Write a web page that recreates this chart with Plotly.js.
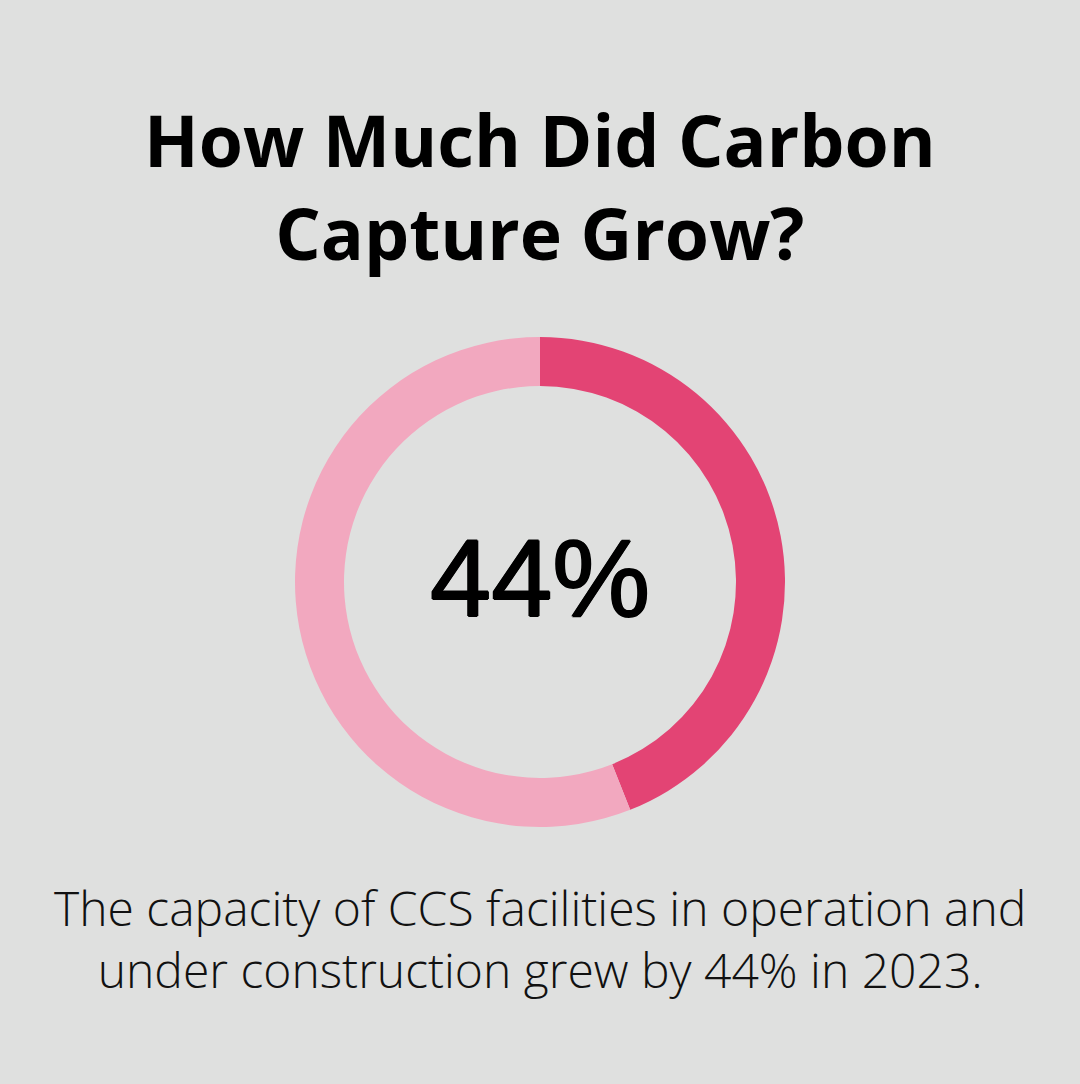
<!DOCTYPE html>
<html>
<head>
<meta charset="utf-8">
<script src="https://cdn.plot.ly/plotly-3.0.1.min.js"></script>
<style>html,body{margin:0;padding:0;background:#dfe0df;}#chart{width:1080px;height:1084px;}</style>
</head>
<body>
<div id="chart"></div>
<script>
const categories = ["Growth", "Remainder"];
const values = [44, 56];
const centerLabel = "44%";
const titleText = "How Much Did Carbon<br>Capture Grow?";
const captionText = "The capacity of CCS facilities in operation and<br>under construction grew by 44% in 2023.";
const colors = ["#e34474", "#f2a8bf"];

const W = 1080, H = 1084;
const data = [{
  type: "pie",
  labels: categories,
  values: values,
  hole: 0.8,
  sort: false,
  direction: "clockwise",
  rotation: 0,
  marker: {colors: colors, line: {width: 0}},
  textinfo: "none",
  hoverinfo: "none",
  showlegend: false,
  domain: {x: [295/W, 785/W], y: [1 - 827/H, 1 - 337/H]}
}];

const layout = {
  width: W, height: H,
  margin: {l: 0, r: 0, t: 0, b: 0},
  paper_bgcolor: "#dfe0df",
  plot_bgcolor: "#dfe0df",
  showlegend: false,
  annotations: [
    {text: titleText, x: 0.5, y: 1 - 186/H, xref: "paper", yref: "paper", xanchor: "center", yanchor: "middle", showarrow: false,
     font: {family: "Open Sans", size: 71.5, color: "#000000", weight: 700}},
    {text: centerLabel, x: 0.5, y: 1 - 577/H, xref: "paper", yref: "paper", xanchor: "center", yanchor: "middle", showarrow: false,
     font: {family: "Liberation Sans, Arial", size: 110, color: "#000000",
            shadow: "1px 0 0 #000, -1px 0 0 #000, 0 1px 0 #000, 0 -1px 0 #000"}},
    {text: captionText, x: 0.5, y: 1 - 938/H, xref: "paper", yref: "paper", xanchor: "center", yanchor: "middle", showarrow: false,
     font: {family: "Open Sans", size: 48, color: "#111111", weight: 300}}
  ]
};

Plotly.newPlot("chart", data, layout, {displayModeBar: false, staticPlot: true});
</script>
</body>
</html>
